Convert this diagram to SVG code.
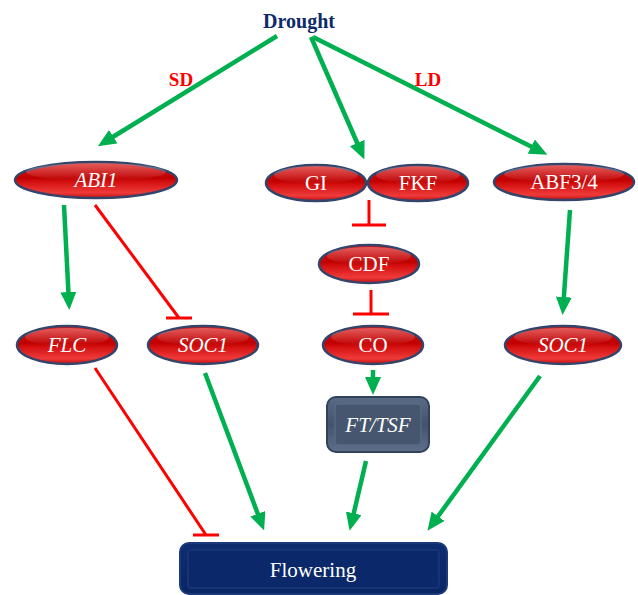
<svg xmlns="http://www.w3.org/2000/svg" width="638" height="595" viewBox="0 0 638 595">
<defs>
<linearGradient id="red" x1="0" y1="0" x2="0" y2="1">
<stop offset="0" stop-color="#d81818"/>
<stop offset="0.45" stop-color="#c00000"/>
<stop offset="0.55" stop-color="#d41010"/>
<stop offset="0.85" stop-color="#ee3a3a"/>
<stop offset="1" stop-color="#c81010"/>
</linearGradient>
<linearGradient id="gloss" x1="0" y1="0" x2="0" y2="1">
<stop offset="0" stop-color="#ffffff" stop-opacity="0.3"/>
<stop offset="1" stop-color="#ffffff" stop-opacity="0"/>
</linearGradient>
<linearGradient id="slate" x1="0" y1="0" x2="0" y2="1">
<stop offset="0" stop-color="#5a6b86"/>
<stop offset="0.5" stop-color="#43536e"/>
<stop offset="1" stop-color="#5e6f8a"/>
</linearGradient>
<linearGradient id="navy" x1="0" y1="0" x2="0" y2="1">
<stop offset="0" stop-color="#0e2d70"/>
<stop offset="1" stop-color="#0a2563"/>
</linearGradient>
<marker id="ga" markerUnits="userSpaceOnUse" markerWidth="18" markerHeight="16" refX="12" refY="8" orient="auto">
<path d="M0,0 L18,8 L0,16 z" fill="#00b050"/>
</marker>
<style>
.node ellipse.b{fill:url(#red);stroke:#34446a;stroke-width:2.5}
.node ellipse.hl{fill:url(#gloss);stroke:none}
text{font-family:'Liberation Serif','Times New Roman',Times,serif}
.t{font-size:21px;fill:#ffffff;text-anchor:middle}
.i{font-style:italic}
.gl{stroke:#00b050;stroke-width:4.5;fill:none}
.rl{stroke:#ff0000;stroke-width:3;fill:none}
.lbl{font-weight:bold;font-size:19px;fill:#ff0000;text-anchor:middle}
.hd{font-weight:bold;font-size:20px;fill:#0d2b6b;text-anchor:middle}
</style>
</defs>
<rect width="638" height="595" fill="#ffffff"/>

<g id="connectors">
<line class="gl" x1="277" y1="36" x2="103" y2="143" marker-end="url(#ga)"/>
<line class="gl" x1="311" y1="37" x2="362" y2="154" marker-end="url(#ga)"/>
<line class="gl" x1="313" y1="37" x2="542" y2="152" marker-end="url(#ga)"/>
<line class="gl" x1="64" y1="205" x2="69" y2="304" marker-end="url(#ga)"/>
<line class="rl" x1="95" y1="205" x2="179" y2="318"/>
<line class="rl" x1="166" y1="318" x2="192" y2="318"/>
<line class="rl" x1="369" y1="200" x2="369" y2="225"/>
<line class="rl" x1="352" y1="225" x2="386" y2="225"/>
<line class="rl" x1="371" y1="290" x2="371" y2="314"/>
<line class="rl" x1="353" y1="314" x2="389" y2="314"/>
<line class="gl" x1="373" y1="370" x2="373" y2="389" marker-end="url(#ga)"/>
<line class="gl" x1="570" y1="210" x2="563" y2="309" marker-end="url(#ga)"/>
<line class="rl" x1="95" y1="368" x2="206" y2="535"/>
<line class="rl" x1="193" y1="535" x2="219" y2="535"/>
<line class="gl" x1="205" y1="373" x2="262" y2="525" marker-end="url(#ga)"/>
<line class="gl" x1="366" y1="461" x2="351" y2="525" marker-end="url(#ga)"/>
<line class="gl" x1="540" y1="376" x2="431" y2="526" marker-end="url(#ga)"/>
</g>

<g id="drought"><text class="hd" x="299" y="28">Drought</text></g>
<g id="label-sd"><text class="lbl" x="181" y="86">SD</text></g>
<g id="label-ld"><text class="lbl" x="428" y="86">LD</text></g>

<g id="abi1" class="node"><ellipse class="b" cx="96" cy="180" rx="81" ry="18"/><ellipse class="hl" cx="96" cy="172" rx="70" ry="9"/><text class="t i" x="96" y="187">ABI1</text></g>
<g id="gi" class="node"><ellipse class="b" cx="316" cy="183" rx="50" ry="18"/><ellipse class="hl" cx="316" cy="175" rx="42" ry="9"/><text class="t" x="316" y="190">GI</text></g>
<g id="fkf" class="node"><ellipse class="b" cx="418" cy="183" rx="50" ry="18"/><ellipse class="hl" cx="418" cy="175" rx="42" ry="9"/><text class="t" x="418" y="190">FKF</text></g>
<g id="abf34" class="node"><ellipse class="b" cx="564" cy="182" rx="70" ry="18"/><ellipse class="hl" cx="564" cy="174" rx="60" ry="9"/><text class="t" x="564" y="189">ABF3/4</text></g>
<g id="cdf" class="node"><ellipse class="b" cx="369" cy="264" rx="50" ry="19"/><ellipse class="hl" cx="369" cy="256" rx="42" ry="9"/><text class="t" x="369" y="271">CDF</text></g>
<g id="flc" class="node"><ellipse class="b" cx="67" cy="345" rx="50" ry="19"/><ellipse class="hl" cx="67" cy="337" rx="42" ry="9"/><text class="t i" x="67" y="352">FLC</text></g>
<g id="soc1-left" class="node"><ellipse class="b" cx="203" cy="345" rx="55" ry="19"/><ellipse class="hl" cx="203" cy="337" rx="46" ry="9"/><text class="t i" x="203" y="352">SOC1</text></g>
<g id="co" class="node"><ellipse class="b" cx="373" cy="345" rx="50" ry="19"/><ellipse class="hl" cx="373" cy="337" rx="42" ry="9"/><text class="t" x="373" y="352">CO</text></g>
<g id="soc1-right" class="node"><ellipse class="b" cx="563" cy="345" rx="58" ry="19"/><ellipse class="hl" cx="563" cy="337" rx="49" ry="9"/><text class="t i" x="563" y="352">SOC1</text></g>

<g id="fttsf" class="node">
<rect x="327" y="397" width="102" height="55" rx="9" fill="url(#slate)" stroke="#33425c" stroke-width="2"/>
<rect x="335" y="404" width="86" height="41" rx="3" fill="#46566f" stroke="#5f7090" stroke-width="1"/>
<text class="t i" x="378" y="432">FT/TSF</text>
</g>
<g id="flowering" class="node">
<rect x="180" y="543" width="267" height="51" rx="9" fill="url(#navy)" stroke="#1c3a7a" stroke-width="2"/>
<rect x="188" y="550" width="251" height="38" rx="2" fill="#0b286a" stroke="#203f80" stroke-width="1"/>
<text class="t" x="313" y="577">Flowering</text>
</g>
</svg>
